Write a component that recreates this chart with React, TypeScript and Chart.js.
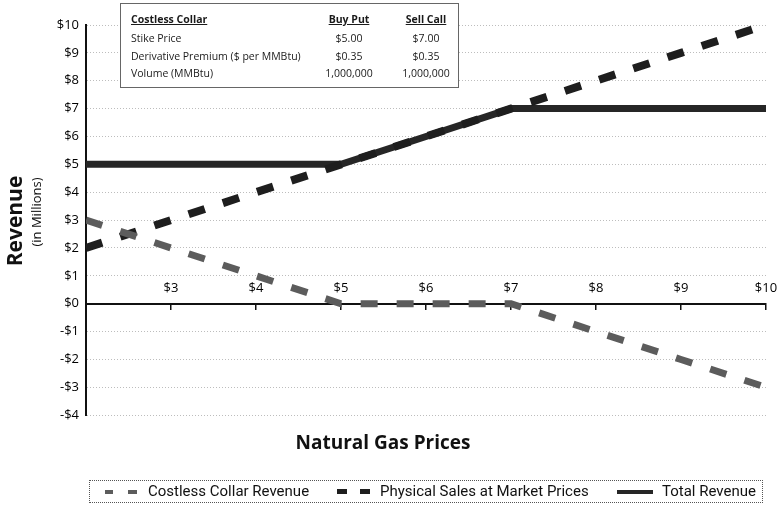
import React, { useEffect, useRef } from 'react';
import { Chart, registerables } from 'chart.js';
Chart.register(...registerables);

const gasPrices = [2, 3, 4, 5, 6, 7, 8, 9, 10];
const collarRevenue = [3, 2, 1, 0, 0, 0, -1, -2, -3];
const physicalSales = [2, 3, 4, 5, 6, 7, 8, 9, 10];
const totalRevenue = [5, 5, 5, 5, 6, 7, 7, 7, 7];
const seriesNames = ['Costless Collar Revenue', 'Physical Sales at Market Prices', 'Total Revenue'];
const seriesColors = ['#5c5c5c', '#1e1e1e', '#262626'];
const xRange = [2, 10];
const yRange = [-4, 10];

const tableHeader = ['Costless Collar', 'Buy Put', 'Sell Call'];
const tableRows = [
  ['Stike Price', '$5.00', '$7.00'],
  ['Derivative Premium ($ per MMBtu)', '$0.35', '$0.35'],
  ['Volume (MMBtu)', '1,000,000', '1,000,000'],
];

const money = (v: number) => (v < 0 ? `-$${-v}` : `$${v}`);

const yTitlePlugin = {
  id: 'yTitle',
  afterDraw(chart: any) {
    const ctx = chart.ctx;
    ctx.save();
    ctx.fillStyle = '#111';
    ctx.textAlign = 'center';
    ctx.textBaseline = 'middle';
    ctx.translate(16, 221);
    ctx.rotate(-Math.PI / 2);
    ctx.font = 'bold 21px "Open Sans"';
    ctx.fillText('Revenue', 0, 0);
    ctx.restore();
    ctx.save();
    ctx.fillStyle = '#111';
    ctx.textAlign = 'center';
    ctx.textBaseline = 'middle';
    ctx.translate(37, 212);
    ctx.rotate(-Math.PI / 2);
    ctx.font = '13px "Open Sans"';
    ctx.fillText('(in Millions)', 0, 0);
    ctx.restore();
  },
};

// legend layout (HTML): sample dash segments [left, width] and text start per item
const legendSamples = [
  { dashes: [[105, 8], [128, 9]], thick: 4 },
  { dashes: [[337, 10], [360, 10]], thick: 5 },
  { dashes: [[617, 36]], thick: 4 },
];
const legendTextLeft = [148, 380, 662];

export default function App() {
  const ref = useRef<HTMLCanvasElement>(null);
  useEffect(() => {
    if (!ref.current) return;
    const mk = (arr: number[]) => gasPrices.map((x, i) => ({ x, y: arr[i] }));
    const chart = new Chart(ref.current, {
      type: 'line',
      data: {
        datasets: [
          { label: seriesNames[0], data: mk(collarRevenue), borderColor: seriesColors[0], borderWidth: 7, borderDash: [17, 19], pointRadius: 0, fill: false, tension: 0 },
          { label: seriesNames[1], data: mk(physicalSales), borderColor: seriesColors[1], borderWidth: 8, borderDash: [17, 19], pointRadius: 0, fill: false, tension: 0 },
          { label: seriesNames[2], data: mk(totalRevenue), borderColor: seriesColors[2], borderWidth: 7, pointRadius: 0, fill: false, tension: 0 },
        ],
      },
      options: {
        responsive: false,
        animation: false,
        layout: { padding: { top: 25, right: 13, left: 0, bottom: 55 } },
        scales: {
          x: {
            type: 'linear',
            position: { y: 0 } as any,
            min: xRange[0],
            max: xRange[1],
            ticks: {
              stepSize: 1,
              padding: -28,
              maxRotation: 0,
              color: '#000',
              font: { family: 'Open Sans', size: 13 },
              callback: (v: any) => (v === xRange[0] ? null : money(v)),
            },
            grid: { drawOnChartArea: false, drawTicks: true, tickLength: 5, color: '#111', lineWidth: 1.5 },
            border: { display: true, color: '#111', width: 2 },
          },
          y: {
            type: 'linear',
            position: 'left',
            min: yRange[0],
            max: yRange[1],
            afterFit: (s: any) => { s.width = 86; },
            ticks: {
              stepSize: 1,
              padding: 7,
              color: '#000',
              font: { family: 'Open Sans', size: 13 },
              callback: (v: any) => money(v),
            },
            grid: { drawTicks: false, color: '#bdbdbd', lineWidth: 1 },
            border: { display: true, color: '#111', width: 2, dash: [1, 2] },
          },
        },
        plugins: {
          title: {
            display: true,
            position: 'bottom',
            text: 'Natural Gas Prices',
            color: '#111',
            font: { family: 'Open Sans', size: 19, weight: 'bold' },
            padding: { top: 17, bottom: 0 },
          } as any,
          legend: { display: false },
          tooltip: { enabled: false },
        },
      },
      plugins: [yTitlePlugin],
    });
    return () => chart.destroy();
  }, []);

  const colCenters = [228, 305];
  const rowCenters = [15, 34, 52, 69];
  return (
    <div style={{ position: 'fixed', left: 0, top: 0, width: 779, height: 510, background: '#fff' }}>
      <canvas ref={ref} width={779} height={510} style={{ display: 'block' }} />
      <div style={{ position: 'absolute', left: 120, top: 3, width: 339, height: 85, boxSizing: 'border-box', border: '1px solid #666', background: '#fff', fontFamily: '"Open Sans"', fontSize: 10.5, color: '#1a1a1a' }}>
        {[tableHeader, ...tableRows].map((row, r) => (
          <React.Fragment key={r}>
            <div style={{ position: 'absolute', left: 10, top: rowCenters[r] - 8, height: 16, lineHeight: '16px', whiteSpace: 'nowrap', fontWeight: r === 0 ? 'bold' : 'normal', textDecoration: r === 0 ? 'underline' : 'none' }}>{row[0]}</div>
            {[1, 2].map((c) => (
              <div key={c} style={{ position: 'absolute', left: colCenters[c - 1] - 40, width: 80, textAlign: 'center', top: rowCenters[r] - 8, height: 16, lineHeight: '16px', whiteSpace: 'nowrap', fontWeight: r === 0 ? 'bold' : 'normal', textDecoration: r === 0 ? 'underline' : 'none' }}>{row[c]}</div>
            ))}
          </React.Fragment>
        ))}
      </div>
      <div style={{ position: 'absolute', left: 89, top: 480, width: 674, height: 23, boxSizing: 'border-box', border: '1px dotted #555' }} />
      {legendSamples.map((s, i) => (
        <React.Fragment key={i}>
          {s.dashes.map((d, j) => (
            <div key={j} style={{ position: 'absolute', left: d[0], width: d[1], top: 491.5 - s.thick / 2, height: s.thick, background: seriesColors[i] }} />
          ))}
          <div style={{ position: 'absolute', left: legendTextLeft[i], top: 481, height: 21, lineHeight: '21px', whiteSpace: 'nowrap', fontFamily: 'Roboto', fontSize: 15, color: '#111' }}>{seriesNames[i]}</div>
        </React.Fragment>
      ))}
    </div>
  );
}
